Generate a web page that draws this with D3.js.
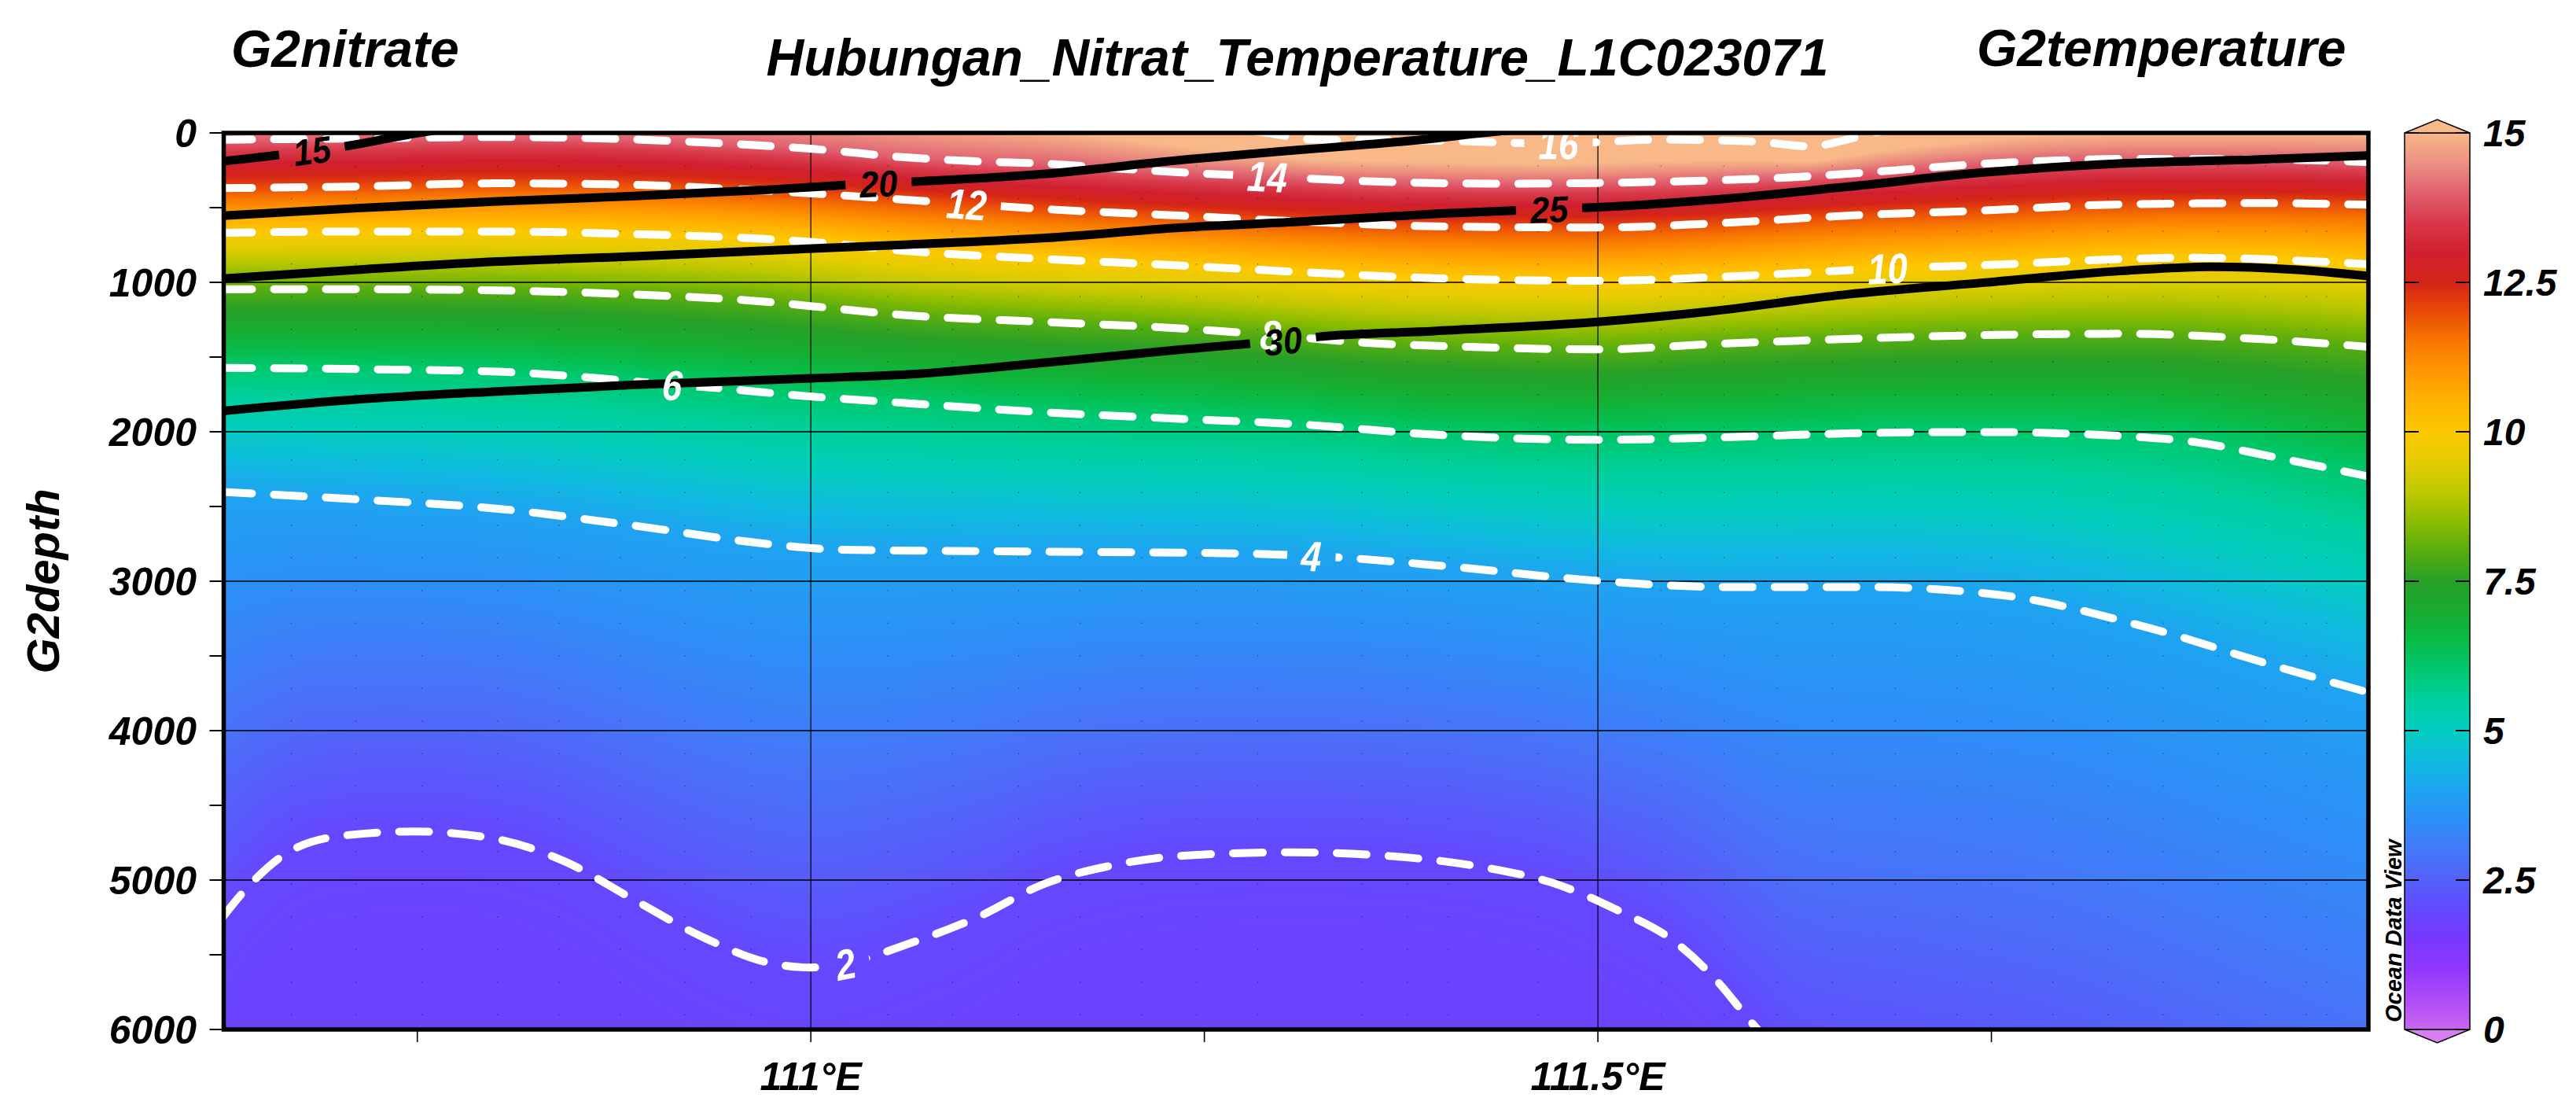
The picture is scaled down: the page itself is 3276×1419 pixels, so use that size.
<!DOCTYPE html>
<html><head><meta charset="utf-8">
<script src="https://cdn.jsdelivr.net/npm/d3@7"></script>
<style>
body{margin:0;background:#fff}
svg{display:block}
text{font-family:"Liberation Sans",Arial,sans-serif;font-weight:bold;font-style:italic}
</style>
</head><body>
<svg id="chart" width="3276" height="1419"></svg>
<script>
// ---------------- data ----------------
const titleMain = "Hubungan_Nitrat_Temperature_L1C023071";
const titleLeft = "G2nitrate";
const titleRight = "G2temperature";
const yTitle = "G2depth";
const watermark = "Ocean Data View";

const depthTicks = [0, 1000, 2000, 3000, 4000, 5000, 6000];
const depthMinorTicks = [500, 1500, 2500, 3500, 4500, 5500];
const lonTicks = [111, 111.5];
const lonTickLabels = ["111°E", "111.5°E"];
const lonMinorTicks = [110.75, 111.25, 111.75];
const colorTicks = [0, 2.5, 5, 7.5, 10, 12.5, 15];
const colorTickLabels = ["0", "2.5", "5", "7.5", "10", "12.5", "15"];

const colorStops = [0, 0.5, 1, 1.5, 2, 2.5, 3, 3.5, 4, 4.5, 5, 5.5, 6, 6.5, 7, 7.5, 8, 8.5, 9, 9.5, 10, 10.5, 11, 11.5, 12, 12.5, 13, 13.5, 14, 14.5, 15];
const colorValues = ["#c868f0", "#b04cf8", "#9038fc", "#7838ff", "#6448ff", "#5560fa", "#4478f8", "#2e8ef8", "#1ea4f0", "#10bae0", "#04ccc0", "#00d0a0", "#00c870", "#08bc48", "#18ac30", "#28a028", "#58ac10", "#8cbc00", "#c0c800", "#e4cc00", "#fcc800", "#ffb400", "#ff9800", "#f87800", "#e84c08", "#d42418", "#d02030", "#d83848", "#e06070", "#ec9080", "#f8b888"];
const colorBelow = "#d77ef5";
const colorAbove = "#f8b888";

const stationLons = [110.670, 110.711, 110.753, 110.801, 110.840, 110.879, 110.920, 110.962, 111.049, 111.090, 111.132, 111.171, 111.210, 111.245, 111.284, 111.350, 111.379, 111.405, 111.462, 111.540, 111.580, 111.614, 111.649, 111.689, 111.728, 111.750, 111.789, 111.824, 111.859, 111.894, 111.924, 111.950, 111.963];

// temperature isolines: [longitude, depth]  (negative / >6000 depths lie outside the section)
const temp16 = [[110.626,-400],[111.0,-400],[111.15,-250],[111.25,-60],[111.29,0],[111.32,45],[111.40,52],[111.475,72],[111.54,45],[111.60,58],[111.635,90],[111.658,45],[111.675,0],[111.72,-80],[111.80,-170],[111.99,-195]];
const temp14 = [[110.626,46],[110.714,37],[110.801,28],[110.877,40],[110.931,63],[111.001,107],[111.062,165],[111.105,190],[111.149,206],[111.193,237],[111.236,265],[111.29,291],[111.35,322],[111.396,335],[111.44,340],[111.50,335],[111.571,318],[111.614,302],[111.658,274],[111.702,239],[111.745,206],[111.789,186],[111.833,174],[111.92,177],[111.99,195]];
const temp12 = [[110.626,370],[110.714,358],[110.801,337],[110.888,347],[110.957,379],[111.001,405],[111.062,449],[111.099,475],[111.149,510],[111.236,554],[111.309,592],[111.396,625],[111.50,633],[111.571,607],[111.658,554],[111.745,519],[111.833,478],[111.92,470],[111.99,481]];
const temp10 = [[110.626,668],[110.714,660],[110.801,660],[110.888,677],[110.975,712],[111.001,730],[111.062,791],[111.149,844],[111.236,888],[111.309,930],[111.396,972],[111.50,990],[111.571,967],[111.636,932],[111.684,905],[111.745,885],[111.833,844],[111.876,835],[111.92,844],[111.99,879]];
const temp8 = [[110.626,1046],[110.714,1046],[110.801,1054],[110.888,1081],[110.975,1133],[111.001,1160],[111.062,1221],[111.149,1265],[111.236,1309],[111.285,1345],[111.353,1405],[111.418,1432],[111.50,1449],[111.571,1414],[111.658,1379],[111.745,1353],[111.833,1344],[111.92,1379],[111.99,1432]];
const temp6 = [[110.626,1572],[110.714,1581],[110.801,1598],[110.866,1642],[110.912,1686],[110.931,1700],[111.001,1765],[111.062,1809],[111.149,1870],[111.236,1914],[111.309,1949],[111.396,2019],[111.50,2054],[111.571,2040],[111.658,2011],[111.745,2002],[111.833,2028],[111.88,2070],[111.93,2170],[111.99,2300]];
const temp4 = [[110.626,2402],[110.713,2453],[110.80,2514],[110.887,2627],[110.974,2752],[111.018,2789],[111.148,2802],[111.279,2816],[111.318,2830],[111.409,2905],[111.496,2994],[111.583,3039],[111.67,3039],[111.757,3094],[111.844,3295],[111.931,3570],[111.99,3746]];
const temp2 = [[110.626,5253],[110.644,5027],[110.670,4801],[110.705,4700],[110.748,4675],[110.80,4725],[110.844,4877],[110.887,5128],[110.931,5380],[110.974,5555],[111.0,5585],[111.022,5560],[111.061,5430],[111.105,5253],[111.148,5027],[111.192,4901],[111.235,4838],[111.305,4814],[111.366,4838],[111.427,4914],[111.47,5015],[111.513,5204],[111.548,5406],[111.574,5656],[111.60,5982],[111.63,6300],[111.70,6500],[111.80,6800],[111.90,7300],[111.99,7800]];

const tempLevels = [16, 14, 12, 10, 8, 6, 4, 2];
const tempLabelLons = [111.475, 111.29, 111.099, 111.684, 111.292, 110.912, 111.318, 111.022];

// nitrate isolines
const nitrate15 = [[110.626,190],[110.66,150],[110.683,118],[110.705,88],[110.74,20],[110.76,-15],[110.80,-70]];
const nitrate20 = [[110.626,554],[110.714,502],[110.801,458],[110.888,423],[110.975,379],[111.02,350],[111.043,338],[111.066,326],[111.149,274],[111.236,180],[111.309,115],[111.353,78],[111.396,37],[111.418,10],[111.45,-25],[111.50,-70]];
const nitrate25 = [[110.626,975],[110.714,914],[110.801,861],[110.888,826],[111.001,774],[111.062,747],[111.149,703],[111.236,633],[111.309,595],[111.40,540],[111.469,510],[111.50,498],[111.571,449],[111.658,361],[111.745,265],[111.833,204],[111.92,177],[111.99,151]];
const nitrate30 = [[110.626,1861],[110.714,1782],[110.801,1730],[110.888,1686],[111.001,1642],[111.062,1616],[111.149,1537],[111.236,1449],[111.275,1414],[111.30,1392],[111.322,1365],[111.396,1326],[111.50,1265],[111.571,1195],[111.658,1081],[111.745,1002],[111.833,923],[111.89,896],[111.942,914],[111.99,958]];

const nitrateLevels = [15, 20, 25, 30];
const nitrateLabelLons = [110.683, 111.043, 111.469, 111.30];

// ---------------- build ----------------
const tempLines = [temp16, temp14, temp12, temp10, temp8, temp6, temp4, temp2];
const nitrateLines = [nitrate15, nitrate20, nitrate25, nitrate30];

const X0 = 284.5, X1 = 3012, Y0 = 169, Y1 = 1309;
const x = d3.scaleLinear().domain([110.627, 111.9895]).range([X0, X1]);
const y = d3.scaleLinear().domain([0, 6000]).range([Y0, Y1]);
const color = d3.scaleLinear().domain(colorStops).range(colorValues).interpolate(d3.interpolateRgb).clamp(true);

const svg = d3.select("#chart");
const defs = svg.append("defs");
defs.append("clipPath").attr("id", "plotclip").append("rect")
  .attr("x", X0).attr("y", Y0).attr("width", X1 - X0).attr("height", Y1 - Y0);

// evaluator equivalent to d3.curveMonotoneX
function sgn(v) { return v < 0 ? -1 : 1; }
function monotone(pts) {
  const n = pts.length, xs = pts.map(p => p[0]), ys = pts.map(p => p[1]);
  const s = [];
  for (let i = 0; i < n - 1; i++) s.push((ys[i + 1] - ys[i]) / (xs[i + 1] - xs[i]));
  const t = new Array(n);
  if (n === 2) { t[0] = t[1] = s[0]; }
  else {
    for (let i = 1; i < n - 1; i++) {
      const h0 = xs[i] - xs[i - 1], h1 = xs[i + 1] - xs[i];
      const s0 = s[i - 1], s1 = s[i];
      const p = (s0 * h1 + s1 * h0) / (h0 + h1);
      t[i] = (sgn(s0) + sgn(s1)) * Math.min(Math.abs(s0), Math.abs(s1), 0.5 * Math.abs(p)) || 0;
    }
    t[0] = (3 * s[0] - t[1]) / 2;
    t[n - 1] = (3 * s[n - 2] - t[n - 2]) / 2;
  }
  return function (xv) {
    if (xv <= xs[0]) return ys[0];
    if (xv >= xs[n - 1]) return ys[n - 1];
    let i = 0;
    while (i < n - 2 && xv > xs[i + 1]) i++;
    const h = xs[i + 1] - xs[i], u = (xv - xs[i]) / h;
    const P0 = ys[i], P1 = ys[i] + h * t[i] / 3, P2 = ys[i + 1] - h * t[i + 1] / 3, P3 = ys[i + 1];
    const a = 1 - u;
    return a * a * a * P0 + 3 * a * a * u * P1 + 3 * a * u * u * P2 + u * u * u * P3;
  };
}

// ---- temperature field raster ----
const rx0 = Math.floor(X0), rx1 = Math.ceil(X1), ry0 = Math.floor(Y0), ry1 = Math.ceil(Y1);
const cw = rx1 - rx0, ch = ry1 - ry0;
const canvas = document.createElement("canvas");
canvas.width = cw; canvas.height = ch;
const ctx = canvas.getContext("2d");
const img = ctx.createImageData(cw, ch);
const lut = [];
for (let i = 0; i <= 1500; i++) { const c = d3.rgb(color(i / 100)); lut.push([c.r, c.g, c.b]); }
const fns = tempLines.map(monotone);
const zRow = new Float64Array(ch);
for (let j = 0; j < ch; j++) zRow[j] = y.invert(ry0 + j + 0.5);
const L = tempLevels, nL = L.length;
for (let i = 0; i < cw; i++) {
  const lon = x.invert(rx0 + i + 0.5);
  const d = fns.map(f => f(lon));
  for (let k = 1; k < nL; k++) if (d[k] < d[k - 1] + 0.5) d[k] = d[k - 1] + 0.5;
  let k = 0;
  for (let j = 0; j < ch; j++) {
    const z = zRow[j];
    while (k < nL && z > d[k]) k++;
    let T;
    if (k === 0) T = L[0] + (d[0] - z) * (L[0] - L[1]) / (d[1] - d[0]);
    else if (k === nL) {
      const g = (L[nL - 2] - L[nL - 1]) / (d[nL - 1] - d[nL - 2]);
      T = Math.max(1.85, L[nL - 1] - 0.3 * g * (z - d[nL - 1]));
    } else {
      const u = (z - d[k - 1]) / (d[k] - d[k - 1]);
      T = L[k - 1] + u * (L[k] - L[k - 1]);
    }
    const c = lut[Math.round(Math.max(0, Math.min(15, T)) * 100)];
    const p = (j * cw + i) * 4;
    img.data[p] = c[0]; img.data[p + 1] = c[1]; img.data[p + 2] = c[2]; img.data[p + 3] = 255;
  }
}
ctx.putImageData(img, 0, 0);

const plot = svg.append("g").attr("clip-path", "url(#plotclip)");
plot.append("image").attr("href", canvas.toDataURL()).attr("x", rx0).attr("y", ry0)
  .attr("width", cw).attr("height", ch).attr("preserveAspectRatio", "none");

// station dotted lines
plot.append("g").selectAll("line").data(stationLons).join("line")
  .attr("x1", d => x(d)).attr("x2", d => x(d)).attr("y1", Y0).attr("y2", Y1)
  .attr("stroke", "#000").attr("stroke-width", 1.2).attr("stroke-dasharray", "1.5,40").attr("opacity", 0.45);

// grid
plot.append("g").selectAll("line").data(depthTicks.slice(1, -1)).join("line")
  .attr("x1", X0).attr("x2", X1).attr("y1", d => y(d)).attr("y2", d => y(d))
  .attr("stroke", "#000").attr("stroke-width", 1.6);
plot.append("g").selectAll("line").data(lonTicks).join("line")
  .attr("x1", d => x(d)).attr("x2", d => x(d)).attr("y1", Y0).attr("y2", Y1)
  .attr("stroke", "#000").attr("stroke-width", 1.2);

// contour lines with labels
const lineGen = d3.line().x(d => x(d[0])).y(d => y(d[1])).curve(d3.curveMonotoneX);

function labelGeom(pts, lon) {
  const f = monotone(pts), e = 0.004;
  const px = x(lon), py = y(f(lon));
  const dx = x(lon + e) - x(lon - e), dy = y(f(lon + e)) - y(f(lon - e));
  return { px, py, ang: Math.atan2(dy, dx) * 180 / Math.PI };
}

const labelLayer = svg.append("g");
function drawSet(lines, levels, labelLons, opts, tag) {
  lines.forEach((pts, idx) => {
    const g = labelGeom(pts, labelLons[idx]);
    const txt = labelLayer.append("text")
      .attr("transform", `translate(${g.px},${g.py}) rotate(${g.ang}) scale(${opts.squeeze},1)`)
      .attr("text-anchor", "middle").attr("dy", "0.36em")
      .attr("font-size", opts.fontSize).attr("fill", opts.textColor)
      .text(levels[idx]);
    const tw = txt.node().getComputedTextLength() * opts.squeeze;
    const gap = tw + opts.pad * 2;
    const mid = `mask-${tag}-${idx}`;
    const m = defs.append("mask").attr("id", mid).attr("maskUnits", "userSpaceOnUse")
      .attr("x", 0).attr("y", 0).attr("width", 3276).attr("height", 1419);
    m.append("rect").attr("x", 0).attr("y", 0).attr("width", 3276).attr("height", 1419).attr("fill", "#fff");
    m.append("rect").attr("x", -gap / 2).attr("y", -40).attr("width", gap).attr("height", 80)
      .attr("fill", "#000").attr("transform", `translate(${g.px},${g.py}) rotate(${g.ang})`);
    opts.layer.append("path").attr("d", lineGen(pts)).attr("fill", "none")
      .attr("stroke", opts.stroke).attr("stroke-width", opts.width)
      .attr("stroke-dasharray", opts.dash).attr("stroke-linecap", opts.cap)
      .attr("mask", `url(#${mid})`);
  });
}
const tempLayer = plot.append("g");
const nitLayer = plot.append("g");
drawSet(tempLines, tempLevels, tempLabelLons,
  { fontSize: 54, squeeze: 0.85, textColor: "#fff", pad: 18, layer: tempLayer, stroke: "#fff", width: 10, dash: "38,28", cap: "round" }, "t");
drawSet(nitrateLines, nitrateLevels, nitrateLabelLons,
  { fontSize: 47, squeeze: 0.92, textColor: "#000", pad: 18, layer: nitLayer, stroke: "#000", width: 11, dash: null, cap: "butt" }, "n");
labelLayer.raise();

// frame
svg.append("rect").attr("x", X0).attr("y", Y0).attr("width", X1 - X0).attr("height", Y1 - Y0)
  .attr("fill", "none").attr("stroke", "#000").attr("stroke-width", 5.5);

// y axis ticks & labels
svg.append("g").selectAll("line").data(depthTicks.concat(depthMinorTicks)).join("line")
  .attr("x1", X0 - 18).attr("x2", X0).attr("y1", d => y(d)).attr("y2", d => y(d))
  .attr("stroke", "#000").attr("stroke-width", 2);
svg.append("g").selectAll("text").data(depthTicks).join("text")
  .attr("x", 250).attr("y", d => y(d)).attr("dy", "0.36em").attr("text-anchor", "end")
  .attr("font-size", 50).text(d => d);
svg.append("text").attr("transform", `translate(75,${(Y0 + Y1) / 2}) rotate(-90)`)
  .attr("text-anchor", "middle").attr("font-size", 58).text(yTitle);

// x axis ticks & labels
svg.append("g").selectAll("line").data(lonTicks.concat(lonMinorTicks)).join("line")
  .attr("x1", d => x(d)).attr("x2", d => x(d)).attr("y1", Y1).attr("y2", Y1 + 16)
  .attr("stroke", "#000").attr("stroke-width", 1.6);
svg.append("g").selectAll("text").data(lonTicks).join("text")
  .attr("x", d => x(d)).attr("y", 1386).attr("text-anchor", "middle")
  .attr("font-size", 50).text((d, i) => lonTickLabels[i]);

// titles
svg.append("text").attr("x", 294).attr("y", 85).attr("font-size", 66).text(titleLeft);
svg.append("text").attr("x", 1650).attr("y", 96).attr("text-anchor", "middle").attr("font-size", 66).text(titleMain);
svg.append("text").attr("x", 2514).attr("y", 84).attr("font-size", 66).text(titleRight);

// colour bar
const CB0 = 3058, CB1 = 3141;
const cy = d3.scaleLinear().domain([0, 15]).range([Y1, Y0]);
const grad = defs.append("linearGradient").attr("id", "cbgrad")
  .attr("x1", 0).attr("y1", 1).attr("x2", 0).attr("y2", 0);
colorStops.forEach((v, i) => grad.append("stop").attr("offset", v / 15).attr("stop-color", colorValues[i]));
const cb = svg.append("g");
cb.append("rect").attr("x", CB0).attr("y", cy(15)).attr("width", CB1 - CB0).attr("height", cy(0) - cy(15))
  .attr("fill", "url(#cbgrad)").attr("stroke", "#000").attr("stroke-width", 1.5);
const midX = (CB0 + CB1) / 2;
cb.append("path").attr("d", `M${CB0},${cy(15)} L${midX},${cy(15) - 17} L${CB1},${cy(15)} Z`)
  .attr("fill", colorAbove).attr("stroke", "#000").attr("stroke-width", 1.5);
cb.append("path").attr("d", `M${CB0},${cy(0)} L${midX},${cy(0) + 17} L${CB1},${cy(0)} Z`)
  .attr("fill", colorBelow).attr("stroke", "#000").attr("stroke-width", 1.5);
cb.append("g").selectAll("line").data(colorTicks).join("line")
  .attr("x1", CB0).attr("x2", CB0 + 18).attr("y1", d => cy(d)).attr("y2", d => cy(d))
  .attr("stroke", "#000").attr("stroke-width", 2);
cb.append("g").selectAll("line").data(colorTicks).join("line")
  .attr("x1", CB1 - 18).attr("x2", CB1).attr("y1", d => cy(d)).attr("y2", d => cy(d))
  .attr("stroke", "#000").attr("stroke-width", 2);
cb.append("g").selectAll("text").data(colorTicks).join("text")
  .attr("x", 3158).attr("y", d => cy(d)).attr("dy", "0.36em")
  .attr("font-size", 48).text((d, i) => colorTickLabels[i]);

svg.append("text").attr("transform", `translate(3054,1300) rotate(-90)`)
  .attr("font-size", 29).text(watermark);
</script>
</body></html>
